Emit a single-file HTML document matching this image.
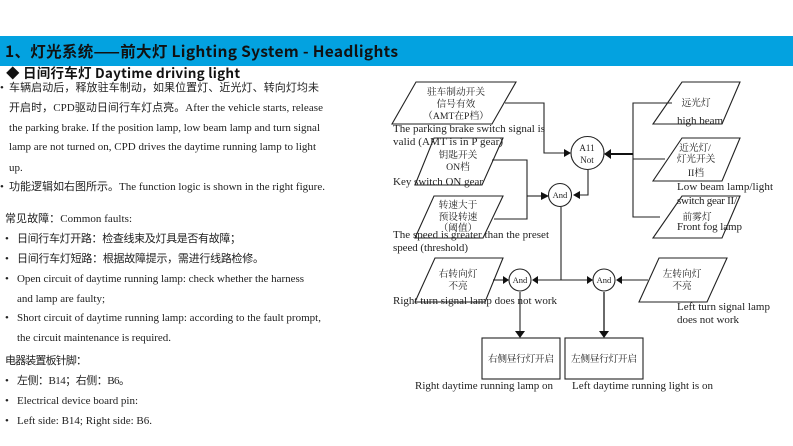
<!DOCTYPE html>
<html><head><meta charset="utf-8">
<style>
html,body{margin:0;padding:0;background:#fff;width:793px;height:446px;overflow:hidden}
svg{display:block}
text{font-family:"Liberation Serif","Noto Serif CJK SC",serif;fill:#222;font-size:11px}
.h{font-family:"Noto Sans CJK SC","Liberation Sans",sans-serif;font-weight:700;fill:#111}
.c{font-family:"Liberation Serif","Noto Sans CJK SC",serif;font-size:11px;fill:#222}
.n{font-size:9.7px;text-anchor:middle;font-family:"Liberation Serif","Noto Serif CJK SC",serif;fill:#222}
.l{font-size:11px;fill:#222}
.s{fill:none;stroke:#222;stroke-width:1.1}
.w{fill:#fff;stroke:#222;stroke-width:1.1}
.a{fill:#111;stroke:none}
</style></head>
<body>
<svg width="793" height="446" viewBox="0 0 793 446" xmlns="http://www.w3.org/2000/svg">
<rect x="0" y="36" width="793" height="30" fill="#03a2e0"/>
<text class="h" x="5" y="57" style="font-size:15.5px" textLength="393">1、灯光系统——前大灯 Lighting System - Headlights</text>
<text class="h" x="6" y="78" style="font-size:13.5px" textLength="234">◆ 日间行车灯  Daytime driving light</text>

<text x="0" y="91" class="c">•</text>
<text x="9" y="91" class="c" textLength="310">车辆启动后，释放驻车制动，如果位置灯、近光灯、转向灯均未</text>
<text x="9" y="111" class="c" textLength="314">开启时，CPD驱动日间行车灯点亮。After the vehicle starts, release</text>
<text x="9" y="131" textLength="311">the parking brake. If the position lamp, low beam lamp and turn signal</text>
<text x="9" y="150" textLength="307">lamp are not turned on, CPD drives the daytime running lamp to light</text>
<text x="9" y="171">up.</text>
<text x="0" y="190" class="c">•</text>
<text x="9" y="190" class="c" textLength="316">功能逻辑如右图所示。The function logic is shown in the right figure.</text>

<text x="5" y="222" class="c" textLength="127">常见故障：Common faults:</text>
<text x="5" y="242" class="c">•</text>
<text x="17" y="242" class="c" textLength="224">日间行车灯开路：检查线束及灯具是否有故障；</text>
<text x="5" y="262" class="c">•</text>
<text x="17" y="262" class="c" textLength="247">日间行车灯短路：根据故障提示，需进行线路检修。</text>
<text x="5" y="282">•</text>
<text x="17" y="282" textLength="287">Open circuit of daytime running lamp: check whether the harness</text>
<text x="17" y="302" textLength="88">and lamp are faulty;</text>
<text x="5" y="321">•</text>
<text x="17" y="321" textLength="304">Short circuit of daytime running lamp: according to the fault prompt,</text>
<text x="17" y="341" textLength="154">the circuit maintenance is required.</text>
<text x="5" y="364" class="c" textLength="82">电器装置板针脚：</text>
<text x="5" y="384" class="c">•</text>
<text x="17" y="384" class="c" textLength="113">左侧：B14；右侧：B6。</text>
<text x="5" y="404">•</text>
<text x="17" y="404" textLength="121">Electrical device board pin:</text>
<text x="5" y="424">•</text>
<text x="17" y="424" textLength="135">Left side: B14; Right side: B6.</text>

<!-- parallelograms -->
<polygon class="w" points="416,82 516,82 492,124 392,124"/>
<polygon class="w" points="434,138 503,138 482,185 415,185"/>
<polygon class="w" points="434,196 503,196 483,238 415,238"/>
<polygon class="w" points="435,258 503,258 485,302 415,302"/>
<polygon class="w" points="682,82 740,82 722,124 653,124"/>
<polygon class="w" points="682,138 740,138 722,181 653,181"/>
<polygon class="w" points="682,196 740,196 722,238 653,238"/>
<polygon class="w" points="659,258 727,258 707,302 639,302"/>

<!-- connectors -->
<path class="s" d="M505 103H544V153H566"/>
<path class="s" d="M492 160H527V219H494"/>
<path class="s" d="M527 196H543"/>
<path class="s" d="M588 170V195H580"/>
<path class="s" d="M561 207V280"/>
<path class="s" d="M538 280H587"/>
<path class="s" d="M493 280H503"/>
<path class="s" d="M648 280H622"/>
<path class="s" d="M520 292V331"/>
<path class="s" d="M604 292V331" style="stroke-width:1.6;stroke:#444"/>
<path class="s" d="M672 103H633V217H660"/>
<path class="s" d="M633 159H665"/>
<path d="M633 154H610" fill="none" stroke="#111" stroke-width="2"/>
<polygon class="a" points="571,153 564,149 564,157"/>
<polygon class="a" points="549,196 541,192 541,200"/>
<polygon class="a" points="573,195 580,191 580,199"/>
<polygon class="a" points="604,154 611,149 611,159"/>
<polygon class="a" points="509,280 503,276 503,284"/>
<polygon class="a" points="532,280 538,276 538,284"/>
<polygon class="a" points="593,280 587,276 587,284"/>
<polygon class="a" points="616,280 622,276 622,284"/>
<polygon class="a" points="520,338 515,331 525,331"/>
<polygon class="a" points="604,338 599,331 609,331"/>

<!-- circles -->
<circle class="w" cx="587.5" cy="153" r="16.5"/>
<circle class="w" cx="560" cy="195" r="11.5"/>
<circle class="w" cx="520" cy="280" r="11"/>
<circle class="w" cx="604" cy="280" r="11"/>
<text class="n" x="587" y="151" style="font-size:9px">A11</text>
<text class="n" x="587" y="163" style="font-size:9px">Not</text>
<text class="n" x="560" y="198" style="font-size:8.5px">And</text>
<text class="n" x="520" y="283" style="font-size:8.5px">And</text>
<text class="n" x="604" y="283" style="font-size:8.5px">And</text>

<!-- boxes -->
<rect class="w" x="482" y="338" width="78" height="41"/>
<rect class="w" x="565" y="338" width="78" height="41"/>
<text class="n" x="521" y="362" textLength="66">右侧昼行灯开启</text>
<text class="n" x="604" y="362" textLength="66">左侧昼行灯开启</text>

<!-- node CJK labels -->
<text class="n" x="456" y="95">驻车制动开关</text>
<text class="n" x="456" y="107">信号有效</text>
<text class="n" x="456" y="119">（AMT在P档）</text>
<text class="n" x="458" y="158">钥匙开关</text>
<text class="n" x="458" y="170">ON档</text>
<text class="n" x="458" y="208">转速大于</text>
<text class="n" x="458" y="220">预设转速</text>
<text class="n" x="458" y="231">（阈值）</text>
<text class="n" x="458" y="277">右转向灯</text>
<text class="n" x="458" y="289">不亮</text>
<text class="n" x="696" y="106">远光灯</text>
<text class="n" x="695" y="151">近光灯/</text>
<text class="n" x="696" y="162">灯光开关</text>
<text class="n" x="696" y="176">II档</text>
<text class="n" x="697" y="220">前雾灯</text>
<text class="n" x="682" y="277">左转向灯</text>
<text class="n" x="682" y="289">不亮</text>

<!-- English labels -->
<text class="l" x="393" y="132" textLength="152">The parking brake switch signal is</text>
<text class="l" x="393" y="145" textLength="110">valid (AMT is in P gear)</text>
<text class="l" x="393" y="185" textLength="90">Key switch ON gear</text>
<text class="l" x="393" y="238" textLength="156">The speed is greater than the preset</text>
<text class="l" x="393" y="251" textLength="75">speed (threshold)</text>
<text class="l" x="393" y="304" textLength="164">Right turn signal lamp does not work</text>
<text class="l" x="415" y="389" textLength="138">Right daytime running lamp on</text>
<text class="l" x="572" y="389" textLength="141">Left daytime running light is on</text>
<text class="l" x="677" y="124" textLength="46">high beam</text>
<text class="l" x="677" y="190" textLength="96">Low beam lamp/light</text>
<text class="l" x="677" y="204" textLength="60">switch gear II/</text>
<text class="l" x="677" y="230" textLength="65">Front fog lamp</text>
<text class="l" x="677" y="310" textLength="93">Left turn signal lamp</text>
<text class="l" x="677" y="323" textLength="62">does not work</text>
</svg>
</body></html>
